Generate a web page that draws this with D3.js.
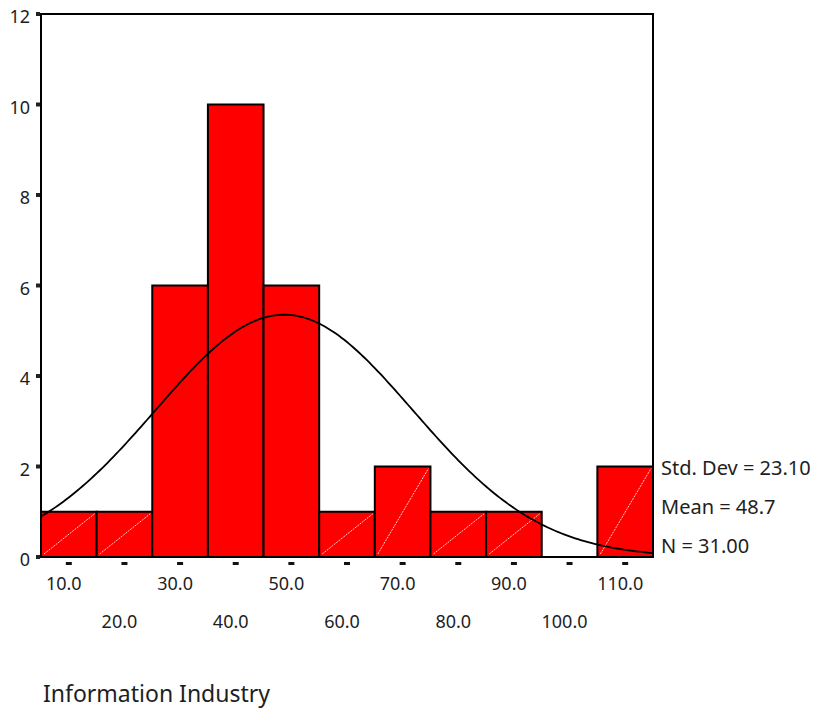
<!DOCTYPE html>
<html>
<head>
<meta charset="utf-8">
<script src="https://cdn.jsdelivr.net/npm/d3@7"></script>
<style>
  html, body { margin: 0; padding: 0; background: #fff; }
  svg { display: block; }
  text { font-family: "Noto Sans", "Open Sans", sans-serif; fill: #1e1e1e; }
</style>
</head>
<body>
<svg id="chart" width="814" height="713"></svg>
<script>
// Histogram of Information Industry values (bin width 10)
const binCenters = [10, 20, 30, 40, 50, 60, 70, 80, 90, 100, 110];
const binCounts  = [1, 1, 6, 10, 6, 1, 2, 1, 1, 0, 2];
const binWidth = 10;
const yTicks = [0, 2, 4, 6, 8, 10, 12];
const xTickLabels = ["10.0", "20.0", "30.0", "40.0", "50.0", "60.0", "70.0", "80.0", "90.0", "100.0", "110.0"];
const statLabels = ["Std. Dev = 23.10", "Mean = 48.7", "N = 31.00"];
const stdDev = 23.10, mean = 48.7, n = 31;
const axisTitle = "Information Industry";

const svg = d3.select("#chart");
const plotL = 41, plotR = 653, plotT = 14, plotB = 557;

const x = d3.scaleLinear().domain([5, 115]).range([plotL, plotR]);
const y = d3.scaleLinear().domain([0, 12]).range([plotB, plotT]);

// bars
const bins = binCenters.map((c, i) => ({ c, n: binCounts[i] })).filter(d => d.n > 0);
const bars = svg.append("g");
bars.selectAll("rect").data(bins).join("rect")
  .attr("x", d => x(d.c - binWidth / 2))
  .attr("y", d => y(d.n))
  .attr("width", d => x(d.c + binWidth / 2) - x(d.c - binWidth / 2))
  .attr("height", d => y(0) - y(d.n))
  .attr("fill", "#ff0000")
  .attr("stroke", "#000")
  .attr("stroke-width", 2);

// thin white diagonals on the short bars
bars.selectAll("line").data(bins.filter(d => d.n < 3)).join("line")
  .attr("x1", d => x(d.c - binWidth / 2) + 3)
  .attr("y1", d => y(0) - 3)
  .attr("x2", d => x(d.c + binWidth / 2) - 2)
  .attr("y2", d => y(d.n) + 2)
  .attr("stroke", "#fff")
  .attr("stroke-width", 0.9)
  .attr("stroke-dasharray", "2,1")
  .attr("opacity", 0.9);

// normal curve scaled to counts
const curvePts = d3.range(0, 221).map(i => {
  const v = 5 + i * 0.5;
  const z = (v - mean) / stdDev;
  return [v, n * binWidth / (stdDev * Math.sqrt(2 * Math.PI)) * Math.exp(-0.5 * z * z)];
});
svg.append("path")
  .datum(curvePts)
  .attr("fill", "none")
  .attr("stroke", "#000")
  .attr("stroke-width", 1.8)
  .attr("d", d3.line().x(d => x(d[0])).y(d => y(d[1])));

// frame
svg.append("rect")
  .attr("x", plotL).attr("y", plotT)
  .attr("width", plotR - plotL).attr("height", plotB - plotT)
  .attr("fill", "none").attr("stroke", "#000").attr("stroke-width", 2);

// y axis ticks and labels
const yg = svg.append("g");
yg.selectAll("rect").data(yTicks).join("rect")
  .attr("x", plotL - 5).attr("y", d => y(d) - 2)
  .attr("width", 4).attr("height", 4)
  .attr("fill", "#222");
yg.selectAll("text").data(yTicks).join("text")
  .attr("x", 30).attr("y", d => y(d) + 9)
  .attr("text-anchor", "end")
  .attr("font-size", 18)
  .text(d => d);

// x axis ticks and staggered labels
const xg = svg.append("g");
xg.selectAll("rect").data(binCenters).join("rect")
  .attr("x", d => x(d) - 3).attr("y", plotB + 5)
  .attr("width", 6).attr("height", 3)
  .attr("fill", "#111");
xg.selectAll("text").data(binCenters).join("text")
  .attr("x", d => x(d) - 5)
  .attr("y", (d, i) => i % 2 === 0 ? 590 : 628)
  .attr("text-anchor", "middle")
  .attr("font-size", 18)
  .text((d, i) => xTickLabels[i]);

// summary statistics
svg.append("g").selectAll("text").data(statLabels).join("text")
  .attr("x", 661)
  .attr("y", (d, i) => 475 + i * 39)
  .attr("font-size", 20)
  .text(d => d);

// axis title
svg.append("text")
  .attr("x", 43).attr("y", 702)
  .attr("font-size", 23)
  .text(axisTitle);
</script>
</body>
</html>
